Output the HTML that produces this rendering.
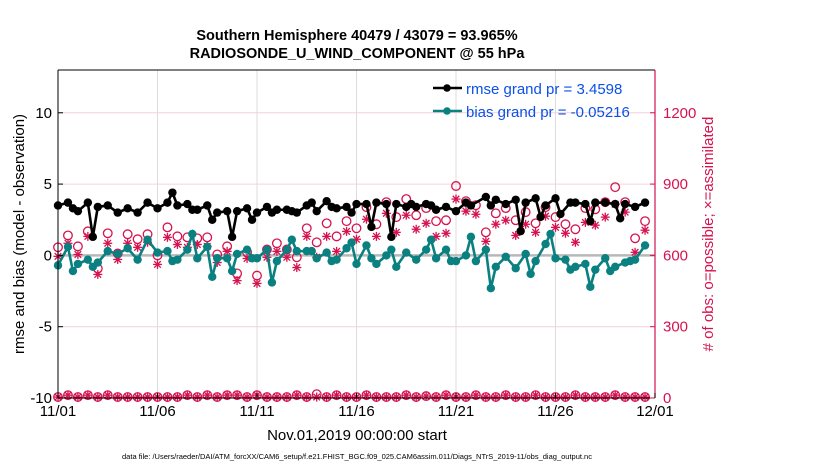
<!DOCTYPE html>
<html><head><meta charset="utf-8"><style>
body{margin:0;background:#fff;}
svg{display:block;font-family:"Liberation Sans",Arial,sans-serif;}
</style></head><body>
<svg id="chart" width="830" height="470" xmlns="http://www.w3.org/2000/svg">
<rect width="830" height="470" fill="#fff"/>
<g id="grid"></g>
<g id="marks"></g>
<g id="axes"></g>
<text x="357" y="40" font-size="14.5" font-weight="bold" text-anchor="middle">Southern Hemisphere 40479 / 43079 = 93.965%</text>
<text x="357" y="58" font-size="14.5" font-weight="bold" text-anchor="middle">RADIOSONDE_U_WIND_COMPONENT @ 55 hPa</text>
<text transform="translate(24,234) rotate(-90)" font-size="15" text-anchor="middle">rmse and bias (model - observation)</text>
<text transform="translate(713,234) rotate(-90)" font-size="15" fill="#d6124f" text-anchor="middle"># of obs: o=possible; ×=assimilated</text>
<text x="357" y="440" font-size="15" text-anchor="middle">Nov.01,2019 00:00:00 start</text>
<text x="357" y="459" font-size="7.5" text-anchor="middle">data file: /Users/raeder/DAI/ATM_forcXX/CAM6_setup/f.e21.FHIST_BGC.f09_025.CAM6assim.011/Diags_NTrS_2019-11/obs_diag_output.nc</text>
<g>
<line x1="433" y1="88" x2="462" y2="88" stroke="#000" stroke-width="2.5"/><circle cx="447" cy="88" r="3.8" fill="#000"/>
<text x="466" y="94" font-size="15" fill="#0b50e8">rmse grand pr = 3.4598</text>
<line x1="433" y1="111" x2="462" y2="111" stroke="#0a8080" stroke-width="2.5"/><circle cx="447" cy="111" r="3.8" fill="#0a8080"/>
<text x="466" y="117" font-size="15" fill="#0b50e8">bias grand pr = -0.05216</text>
</g>
</svg>
<script>
const rmseDays=[0,0.5,0.75,1,1.5,1.75,2,2.5,3,3.5,4,4.5,5,5.5,5.75,6,6.5,6.75,7,7.5,7.75,8,8.5,8.75,9,9.5,9.75,10,10.5,10.75,11,11.5,11.75,12,12.5,12.75,13,13.5,13.75,14,14.5,14.75,15,15.5,15.75,16,16.5,16.75,17,17.5,17.75,18,18.5,18.75,19,19.5,20,20.5,20.75,21.5,21.75,22,22.5,23,23.25,23.5,24,24.25,24.5,25,25.25,25.75,26,26.5,26.75,27,27.5,28,28.25,28.5,29,29.5];
const rmseVals=[3.5,3.7,3.3,3.1,3.7,1.3,3.4,3.5,3.0,3.3,3.0,3.7,3.3,3.7,4.4,3.5,3.6,3.2,3.2,3.5,2.5,3.0,3.1,1.3,3.1,3.3,2.5,3.0,3.4,3.0,3.2,3.2,3.1,3.0,3.5,3.7,3.1,3.8,3.4,3.3,3.4,3.0,3.6,3.6,2.0,3.7,3.6,1.3,3.6,3.4,3.6,3.4,3.6,3.5,3.2,3.4,3.1,3.7,3.5,4.1,3.5,3.9,3.6,3.9,1.7,3.7,4.0,2.7,3.5,4.0,2.9,3.7,3.7,3.6,2.4,3.7,3.7,3.6,2.6,3.6,3.4,3.7];
const biasDays=[0,0.5,0.75,1,1.5,1.75,2,2.5,3,3.5,4,4.5,5,5.5,5.75,6,6.5,6.75,7,7.5,7.75,8,8.5,8.75,9,9.5,9.75,10,10.5,10.75,11,11.5,11.75,12,12.5,12.75,13,13.5,13.75,14,14.5,14.75,15,15.5,15.75,16,16.5,16.75,17,17.5,18,18.5,18.75,19,19.5,19.75,20,20.5,20.75,21,21.5,21.75,22,22.5,23,23.5,23.75,24,24.5,24.75,25,25.5,25.75,26,26.5,26.75,27,27.5,27.75,28,28.5,28.75,29,29.5];
const biasVals=[-0.7,0.6,-1.1,-0.6,-0.3,-0.8,-0.5,0.3,0.1,0.5,-0.3,1.1,0.2,0.3,-0.4,-0.3,0.4,1.5,-0.2,0.6,-1.5,-0.2,-0.2,-1.1,0.1,0.4,-0.2,-0.2,0.4,-1.9,-0.4,0.4,1.1,0.3,0.3,0.3,-0.2,0.2,-0.4,-0.3,0.5,0.9,-0.6,0.7,-0.2,-0.6,0,0.4,-0.8,0.2,-0.3,0.4,1.1,-0.2,0.4,-0.4,-0.4,0,1.3,-0.4,0.4,-2.3,-0.8,-0.1,-0.9,0.1,-1.3,-0.4,0.8,1.5,-0.2,-0.3,-1.0,-0.8,-0.6,-2.2,-1.0,-0.2,-1.1,-0.8,-0.5,-0.4,-0.3,0.7];
const obsPossible=[634,684,638,701,545,693,608,689,668,689,600,718,680,676,672,676,604,638,524,613,515,625,651,625,592,714,655,735,680,744,714,803,731,824,761,837,769,799,744,748,892,828,811,697,777,799,748,782,735,803,761,731,710,799,794,824,887,824,672,744];
const obsAssim=[596,651,604,680,520,651,583,651,634,655,562,676,646,634,646,638,570,617,494,587,482,592,617,592,549,680,592,680,617,701,668,752,680,777,697,769,710,735,680,693,837,786,773,659,731,748,684,731,697,765,718,693,655,739,727,761,815,782,613,706];
const lowPossible=[4,12,4,12,4,12,4,4,4,4,4,4,4,12,4,12,4,12,12,4,12,4,4,4,12,4,16,4,12,4,4,12,4,4,4,12,4,8,4,12,4,4,12,4,4,12,4,4,12,4,4,4,12,4,4,4,12,4,4,4];
const lowAssim=[4,12,4,12,4,12,4,4,4,4,4,4,4,12,4,12,4,12,12,4,12,4,4,4,12,4,4,4,12,4,4,12,4,4,4,12,4,8,4,12,4,4,12,4,4,12,4,4,12,4,4,4,12,4,4,4,12,4,4,4];
const yTicks=[-10,-5,0,5,10];
const rTicks=[0,300,600,900,1200];
const xTickDays=[0,5,10,15,20,25,30];
const xTickLabels=['11/01','11/06','11/11','11/16','11/21','11/26','12/01'];

const X0=58,X1=655,Y0=70,Y1=398;
const sx=d=>X0+(X1-X0)*d/30;
const sy=v=>Y1-(Y1-Y0)*(v+10)/23;
const sr=o=>sy(o/60-10);
const NS='http://www.w3.org/2000/svg';
function mk(tag,parent,attrs){const e=document.createElementNS(NS,tag);for(const k in attrs)e.setAttribute(k,attrs[k]);parent.appendChild(e);return e;}
const grid=document.getElementById('grid'),marks=document.getElementById('marks'),axes=document.getElementById('axes');

xTickDays.forEach(d=>{const l=mk('line',grid,{x1:sx(d),x2:sx(d),y1:Y0,y2:Y1,stroke:'#dcdcdc','stroke-width':1});

});
rTicks.forEach(o=>{const l=mk('line',grid,{x1:X0,x2:X1,y1:sr(o),y2:sr(o),stroke:'#f6d0dc','stroke-width':1});

});
const zl=mk('line',grid,{x1:X0,x2:X1,y1:sy(0),y2:sy(0),stroke:'#b8b8b8','stroke-width':2.5});



function star(cx,cy,name){const g=mk('g',marks,{stroke:'#d6124f','stroke-width':1.3});


mk('line',g,{x1:cx-4.5,x2:cx+4.5,y1:cy,y2:cy});mk('line',g,{x1:cx,x2:cx,y1:cy-4.5,y2:cy+4.5});
mk('line',g,{x1:cx-3.3,x2:cx+3.3,y1:cy-3.3,y2:cy+3.3});mk('line',g,{x1:cx-3.3,x2:cx+3.3,y1:cy+3.3,y2:cy-3.3});}
function ring(cx,cy,name){const c=mk('circle',marks,{cx:cx,cy:cy,r:4.3,fill:'none',stroke:'#d6124f','stroke-width':1.3});

}
obsPossible.forEach((o,i)=>ring(sx(i*0.5),sr(o),'obs-possible-point'));
obsAssim.forEach((o,i)=>star(sx(i*0.5),sr(o),'obs-assimilated-point'));
lowPossible.forEach((o,i)=>ring(sx(i*0.5),sr(o),'obs-possible-low-point'));
lowAssim.forEach((o,i)=>star(sx(i*0.5),sr(o),'obs-assimilated-low-point'));

function series(days,vals,color,name){
const p=mk('polyline',marks,{points:days.map((d,i)=>sx(d)+','+sy(vals[i])).join(' '),fill:'none',stroke:color,'stroke-width':2.6});


days.forEach((d,i)=>{const c=mk('circle',marks,{cx:sx(d),cy:sy(vals[i]),r:4.2,fill:color});

});}
series(biasDays,biasVals,'#0a8080','bias');
series(rmseDays,rmseVals,'#000','rmse');

mk('line',axes,{x1:X0,x2:X1,y1:Y0,y2:Y0,stroke:'#000','stroke-width':1});
mk('line',axes,{x1:X0,x2:X1,y1:Y1,y2:Y1,stroke:'#000','stroke-width':1});
mk('line',axes,{x1:X0,x2:X0,y1:Y0,y2:Y1,stroke:'#000','stroke-width':1});
mk('line',axes,{x1:X1,x2:X1,y1:Y0,y2:Y1,stroke:'#d6124f','stroke-width':1.2});
yTicks.forEach(v=>{mk('line',axes,{x1:X0,x2:X0+5,y1:sy(v),y2:sy(v),stroke:'#000'});
const t=mk('text',axes,{x:X0-6,y:sy(v)+5,'font-size':15,'text-anchor':'end'});t.textContent=v;

});
rTicks.forEach(o=>{mk('line',axes,{x1:X1-5,x2:X1,y1:sr(o),y2:sr(o),stroke:'#d6124f'});
const t=mk('text',axes,{x:X1+8,y:sr(o)+5,'font-size':15,fill:'#d6124f'});t.textContent=o;

});
xTickDays.forEach((d,i)=>{mk('line',axes,{x1:sx(d),x2:sx(d),y1:Y1,y2:Y1-5,stroke:'#000'});
const t=mk('text',axes,{x:sx(d),y:416,'font-size':15,'text-anchor':'middle'});t.textContent=xTickLabels[i];

});
</script>
</body></html>
